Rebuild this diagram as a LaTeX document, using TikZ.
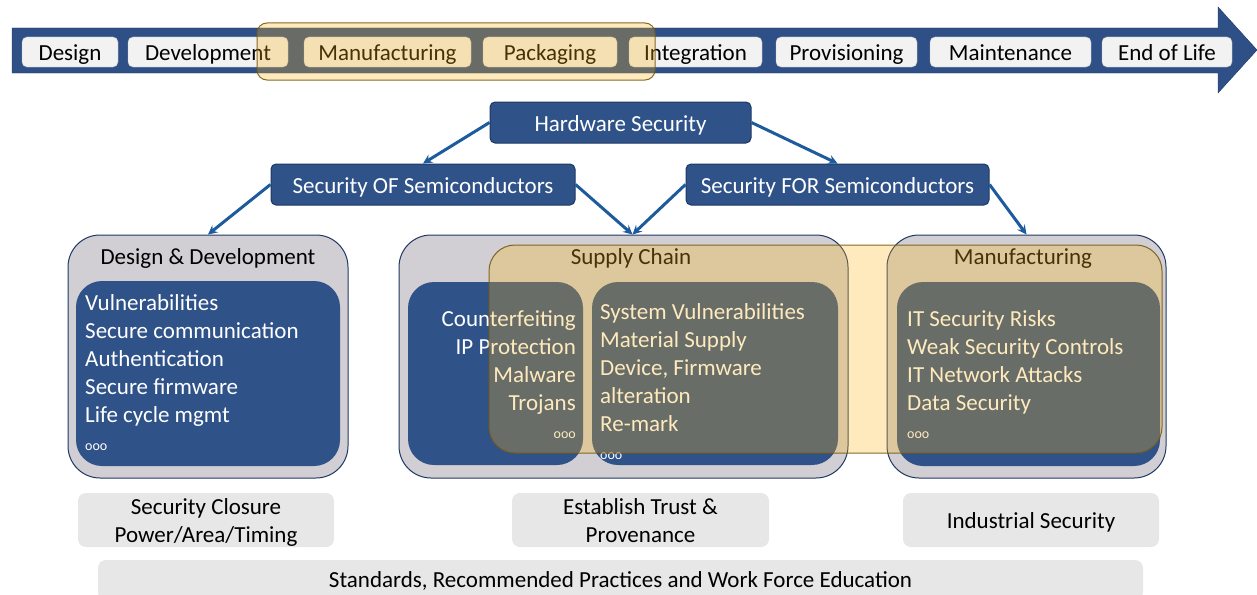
\documentclass[tikz,border=0pt]{standalone}
\usepackage{fontspec}
\setmainfont{Carlito}
\usepackage{tikz}
\usetikzlibrary{calc}
\usetikzlibrary{positioning}
\usetikzlibrary{arrows}
\definecolor{hsblue}{HTML}{2F5289}
\definecolor{hsedge}{HTML}{1F3864}
\definecolor{barblue}{HTML}{2E5086}
\definecolor{arrowblue}{HTML}{1D5B9C}
\definecolor{areagrey}{HTML}{D1CFD3}
\definecolor{goalgrey}{HTML}{E7E7E7}
\definecolor{stagegrey}{HTML}{F2F2F2}
\definecolor{tintfill}{RGB}{255,180,20}
\definecolor{tintedge}{RGB}{120,90,20}
\newcommand{\bigtext}{\fontsize{23}{28}\selectfont}
\newcommand{\etcmark}{{\fontsize{14}{14}\selectfont ooo}}
\tikzstyle{oneline} = [text height=18.5pt, text depth=1.5pt, inner sep=0pt]
\tikzstyle{stage} = [rectangle, oneline, rounded corners=5pt, draw=black!25, fill=stagegrey, minimum height=30pt]
\tikzstyle{topic} = [rectangle, oneline, rounded corners=5pt, draw=hsedge, line width=1pt, fill=hsblue, text=white, minimum height=41pt]
\tikzstyle{area} = [rectangle, rounded corners=32pt, draw=hsedge, line width=1pt, fill=areagrey, minimum height=243pt, inner sep=0pt]
\tikzstyle{listbox} = [rectangle, rounded corners=26pt, fill=hsblue, inner sep=0pt]
\tikzstyle{items} = [align=left, text=white, inner sep=0pt]
\tikzstyle{goalbox} = [rectangle, rounded corners=8pt, fill=goalgrey, minimum height=54pt, align=center, inner sep=0pt]
\tikzstyle{tint} = [rounded corners=26pt, fill=tintfill, fill opacity=0.28, draw=tintedge, draw opacity=0.9, line width=1pt]
\tikzstyle{arrow} = [line width=3pt,->,>=stealth, draw=arrowblue]

\begin{document}
\begin{tikzpicture}[x=1pt, y=-1pt, font=\bigtext]
\useasboundingbox (0,0) rectangle (1257,594);

% life cycle
\filldraw [fill=barblue, draw=hsedge] (12,28) -- (1218,28) -- (1218,7) -- (1257,50) -- (1218,93) -- (1218,73) -- (12,73) -- cycle;
\node (design) [stage, minimum width=96pt] at (70,52) {Design};
\node (devel) [stage, minimum width=160pt] at (208,52) {Development};
\node (manuf) [stage, minimum width=167pt] at (387.5,52) {Manufacturing};
\node (pack) [stage, minimum width=134pt] at (550,52) {Packaging};
\node (integ) [stage, minimum width=133pt] at (695.5,52) {Integration};
\node (prov) [stage, minimum width=141pt] at (846.5,52) {Provisioning};
\node (maint) [stage, minimum width=161pt] at (1010.5,52) {Maintenance};
\node (eol) [stage, minimum width=130pt] at (1167,52) {End of Life};
\draw [tint, rounded corners=10pt] (257,23) rectangle (655,80);

\node (hw) [topic, minimum width=261pt] at (620.5,122.5) {Hardware Security};
\node (sof) [topic, minimum width=304pt] at (423,184.5) {Security OF Semiconductors};
\node (sfor) [topic, minimum width=303pt] at (837.5,184.5) {Security FOR Semiconductors};

% areas
\node (dd) [area, minimum width=280pt] at (208,356.5) {};
\node (sc) [area, minimum width=449pt] at (623.5,356.5) {};
\node (mf) [area, minimum width=279pt] at (1026.5,356.5) {};
\node (ddtitle) [oneline] at (208,256) {Design \& Development};
\node (sctitle) [oneline] at (631,256) {Supply Chain};
\node (mftitle) [oneline] at (1023,256) {Manufacturing};

\node (ddbox) [listbox, minimum width=264pt, minimum height=185pt] at (208,373.5) {};
\node (scleft) [listbox, minimum width=175pt, minimum height=183pt] at (495.5,373.5) {};
\node (scright) [listbox, minimum width=246pt, minimum height=183pt] at (715,373.5) {};
\node (mfbox) [listbox, minimum width=263pt, minimum height=184pt] at (1028.5,374) {};

\node (ddlist) [items, anchor=west] at (85,372.5) {Vulnerabilities\\Secure communication\\Authentication\\Secure firmware\\Life cycle mgmt\\\etcmark};
\node (scllist) [items, align=right, anchor=east] at (576,374.5) {Counterfeiting\\IP Protection\\Malware\\Trojans\\\etcmark};
\node (scrlist) [items, anchor=west] at (600,381.5) {System Vulnerabilities\\Material Supply\\Device, Firmware\\alteration\\Re-mark\\\etcmark};
\node (mflist) [items, anchor=west] at (907,374.5) {IT Security Risks\\Weak Security Controls\\IT Network Attacks\\Data Security\\\etcmark};

\coordinate (scin) at ($(sc.north)+(9,0)$);
\draw [arrow] (hw.west) -- (sof.north);
\draw [arrow] (hw.east) -- (sfor.north);
\draw [arrow] (sof.west) -- (dd.north);
\draw [arrow] (sof.east) -- (scin);
\draw [arrow] (sfor.west) -- (scin);
\draw [arrow] (sfor.east) -- (mf.north);

\draw [tint] (489,245) rectangle (1162,453);

% goals
\node (closure) [goalbox, minimum width=256pt, text height=46pt, text depth=1pt] at (206,520) {Security Closure\\Power/Area/Timing};
\node (trust) [goalbox, minimum width=257pt, text height=46pt, text depth=1pt] at (640.5,520) {Establish Trust \&\\Provenance};
\node (indus) [goalbox, minimum width=256pt, text height=18pt, text depth=1.2pt] at (1031,520) {Industrial Security};
\node (stds) [goalbox, minimum width=1045pt, minimum height=40pt, text height=18pt, text depth=3.2pt] at (620.5,580) {Standards, Recommended Practices and Work Force Education};
\end{tikzpicture}
\end{document}
